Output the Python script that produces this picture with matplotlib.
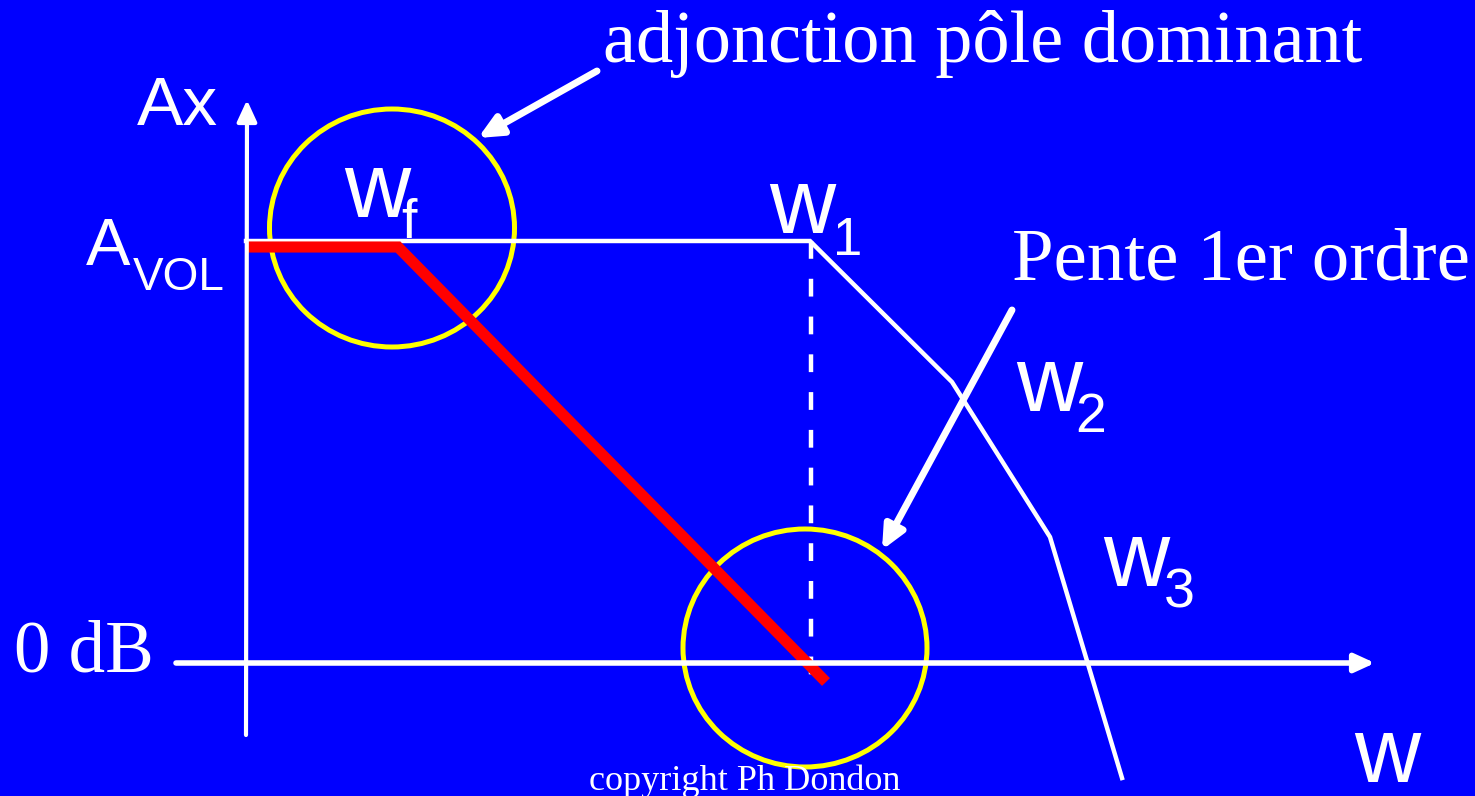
import matplotlib
matplotlib.use('Agg')
import matplotlib.pyplot as plt
from matplotlib.patches import Ellipse

# all coordinates are in pixels of the 1475x796 picture (y grows downward)
W, H = 1475, 796
BLUE = '#0000ff'

# gain curves
open_loop_x = [246, 810, 952, 1050, 1122]      # white: AVOL flat, then w1, w2, w3 breaks
open_loop_y = [241, 241, 382, 537, 778]
dominant_x = [248, 398, 826]                    # red: compensated curve with pole wf
dominant_y = [247, 247, 682]
w1_dash_x = [811, 811]
w1_dash_y = [241, 675]

# highlighted zones (center x, center y, width, height)
circles = [(392, 228, 245, 238), (805, 648, 244, 238)]

# annotation arrows: (start, tip)
arrows = [((597, 71), (478, 138)), ((1012, 310), (882, 550))]

fig = plt.figure(figsize=(W / 100, H / 100), dpi=100)
fig.patch.set_facecolor(BLUE)
ax = fig.add_axes([0, 0, 1, 1])
ax.set_facecolor(BLUE)
ax.set_xlim(0, W)
ax.set_ylim(H, 0)
ax.axis('off')

# axes of the diagram
ax.annotate('', xy=(247, 100), xytext=(246, 735),
            arrowprops=dict(arrowstyle='-|>,head_length=1.3,head_width=0.6',
                            color='white', lw=3, shrinkA=0, shrinkB=0))
ax.annotate('', xy=(1375, 663), xytext=(176, 663),
            arrowprops=dict(arrowstyle='-|>,head_length=1.2,head_width=0.55',
                            color='white', lw=4, shrinkA=0, shrinkB=0))

ax.plot(open_loop_x, open_loop_y, color='white', lw=3.2, solid_joinstyle='miter')
ax.plot(w1_dash_x, w1_dash_y, color='white', lw=3.2, dashes=(4, 4.5))
ax.plot(dominant_x, dominant_y, color='#ff0000', lw=8, solid_capstyle='butt',
        solid_joinstyle='miter')

for cx, cy, cw, ch in circles:
    ax.add_patch(Ellipse((cx, cy), cw, ch, fill=False, ec='#ffff00', lw=3.6))

for (x0, y0), (x1, y1) in arrows:
    ax.annotate('', xy=(x1, y1), xytext=(x0, y0),
                arrowprops=dict(arrowstyle='-|>,head_length=1.4,head_width=0.65',
                                color='white', lw=5, shrinkA=0, shrinkB=0))

serif = 'Liberation Serif'
sans = 'Liberation Sans'

ax.text(603, 62, 'adjonction pôle dominant', color='white', fontsize=53.5,
        family=serif, va='baseline', ha='left')
ax.text(1012, 280, 'Pente 1er ordre', color='white', fontsize=54,
        family=serif, va='baseline', ha='left')
ax.text(14, 671, '0 dB', color='white', fontsize=52.5,
        family=serif, va='baseline', ha='left')
ax.text(745, 790, 'copyright Ph Dondon', color='white', fontsize=26,
        family=serif, va='baseline', ha='center')

ax.text(137, 125, 'Ax', color='white', fontsize=50, family=sans, va='baseline')
ax.text(86, 265, 'A', color='white', fontsize=48, family=sans, va='baseline')
ax.text(133, 290, 'VOL', color='white', fontsize=33, family=sans, va='baseline')

# w labels with their subscripts
ax.text(344, 217, 'w', color='white', fontsize=66, family=sans, va='baseline')
ax.text(401, 238, 'f', color='white', fontsize=40, family=sans, va='baseline')
ax.text(769, 233, 'w', color='white', fontsize=66, family=sans, va='baseline')
ax.text(833, 255, '1', color='white', fontsize=38, family=sans, va='baseline')
ax.text(1016, 411, 'w', color='white', fontsize=66, family=sans, va='baseline')
ax.text(1075, 432, '2', color='white', fontsize=40, family=sans, va='baseline')
ax.text(1103, 586, 'w', color='white', fontsize=66, family=sans, va='baseline')
ax.text(1164, 607, '3', color='white', fontsize=40, family=sans, va='baseline')
ax.text(1354, 782, 'w', color='white', fontsize=66, family=sans, va='baseline')

fig.savefig('out.png', dpi=100, facecolor=BLUE)
